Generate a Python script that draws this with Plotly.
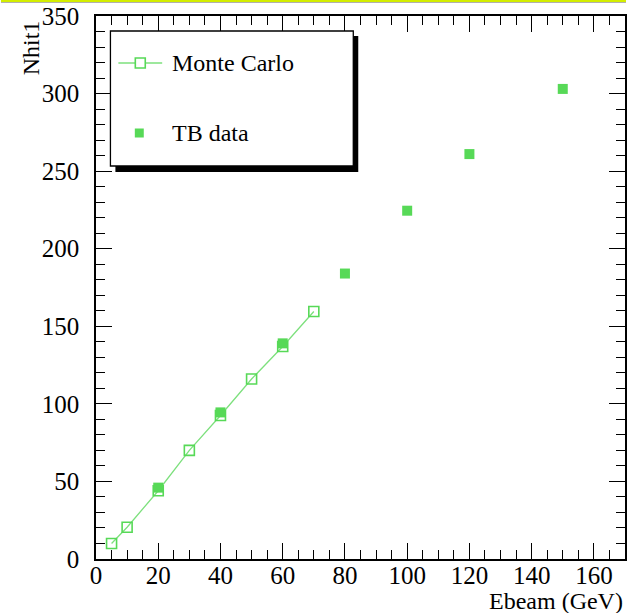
import plotly.graph_objects as go

# ---- data ----
mc_x = [5, 10, 20, 30, 40, 50, 60, 70]
mc_y = [10, 20.5, 44, 70, 92.5, 116, 137, 159.5]
tb_x = [20, 40, 60, 80, 100, 120, 150]
tb_y = [46, 94.5, 139, 184, 224.5, 261, 303]
x_ticks = [0, 20, 40, 60, 80, 100, 120, 140, 160]
y_ticks = [0, 50, 100, 150, 200, 250, 300, 350]

W, H = 628, 613
L, R, T, B = 95.5, 627, 16, 559
GREEN = "#57d957"
LINE_GREEN = "#7de07d"
FONT = "Liberation Serif"

fig = go.Figure()
fig.add_trace(go.Scatter(x=mc_x, y=mc_y, mode="lines+markers", name="Monte Carlo",
                         line=dict(color=LINE_GREEN, width=1.3),
                         marker=dict(symbol="square-open", size=10, color=GREEN,
                                     line=dict(width=1.6, color=GREEN))))
fig.add_trace(go.Scatter(x=tb_x, y=tb_y, mode="markers", name="TB data",
                         marker=dict(symbol="square", size=10, color=GREEN,
                                     line=dict(width=0))))

def axis(rng, ticks, minor_dt, standoff):
    return dict(range=rng, tickvals=ticks, showgrid=False, zeroline=False, showline=True,
                linecolor="black", linewidth=1.5, mirror="allticks", ticks="inside",
                tickcolor="black", tickwidth=1.3, ticklen=16, ticklabelstandoff=standoff,
                tickfont=dict(family=FONT, size=25, color="black"),
                minor=dict(dtick=minor_dt, ticklen=9, ticks="inside", tickcolor="black", tickwidth=1.3))

def px(x):
    return (x - L) / (R - L)

def py(y):
    return (B - y) / (B - T)

shapes = []
# top border strip
shapes.append(dict(type="rect", xref="paper", yref="paper", x0=px(0), x1=px(W), y0=py(0), y1=py(2),
                   fillcolor="#d4ee00", line=dict(width=0), layer="above"))
shapes.append(dict(type="line", xref="paper", yref="paper", x0=px(0), x1=px(W), y0=py(2.5), y1=py(2.5),
                   line=dict(color="#b0b0b0", width=1), layer="above"))
# legend shadow and box
shapes.append(dict(type="rect", xref="paper", yref="paper", x0=px(115), x1=px(359), y0=py(172), y1=py(36),
                   fillcolor="black", line=dict(width=0), layer="above"))
shapes.append(dict(type="rect", xref="paper", yref="paper", x0=px(110), x1=px(354), y0=py(166), y1=py(31),
                   fillcolor="white", line=dict(color="black", width=1.3), layer="above"))
# legend symbols
shapes.append(dict(type="line", xref="paper", yref="paper", x0=px(118), x1=px(162), y0=py(63), y1=py(63),
                   line=dict(color=LINE_GREEN, width=1.3), layer="above"))
shapes.append(dict(type="rect", xref="paper", yref="paper", x0=px(135), x1=px(145), y0=py(68), y1=py(58),
                   fillcolor="white", line=dict(color=GREEN, width=1.6), layer="above"))
shapes.append(dict(type="rect", xref="paper", yref="paper", x0=px(134.5), x1=px(143.5), y0=py(137.5), y1=py(128.5),
                   fillcolor=GREEN, line=dict(width=0), layer="above"))

annotations = [
    dict(text="Monte Carlo", xref="paper", yref="paper", x=px(170), y=py(63), xanchor="left", yanchor="middle",
         showarrow=False, font=dict(family=FONT, size=24, color="black")),
    dict(text="TB data", xref="paper", yref="paper", x=px(170), y=py(133), xanchor="left", yanchor="middle",
         showarrow=False, font=dict(family=FONT, size=24, color="black")),
    dict(text="Ebeam (GeV)", xref="paper", yref="paper", x=px(627), y=py(601), xanchor="right", yanchor="middle",
         showarrow=False, font=dict(family=FONT, size=24, color="black")),
    dict(text="Nhit1", xref="paper", yref="paper", x=px(30), y=py(18), xanchor="center", yanchor="top",
         textangle=-90, showarrow=False, font=dict(family=FONT, size=24, color="black")),
]

fig.update_layout(width=W, height=H, margin=dict(l=L, r=W - R, t=T, b=H - B, pad=0),
                  font=dict(family=FONT, size=24, color="black"),
                  xaxis=axis([0, 170], x_ticks, 5, -7),
                  yaxis=axis([0, 350], y_ticks, 10, 10),
                  paper_bgcolor="white", plot_bgcolor="white", showlegend=False,
                  shapes=shapes, annotations=annotations)

fig.write_html("out.html")
